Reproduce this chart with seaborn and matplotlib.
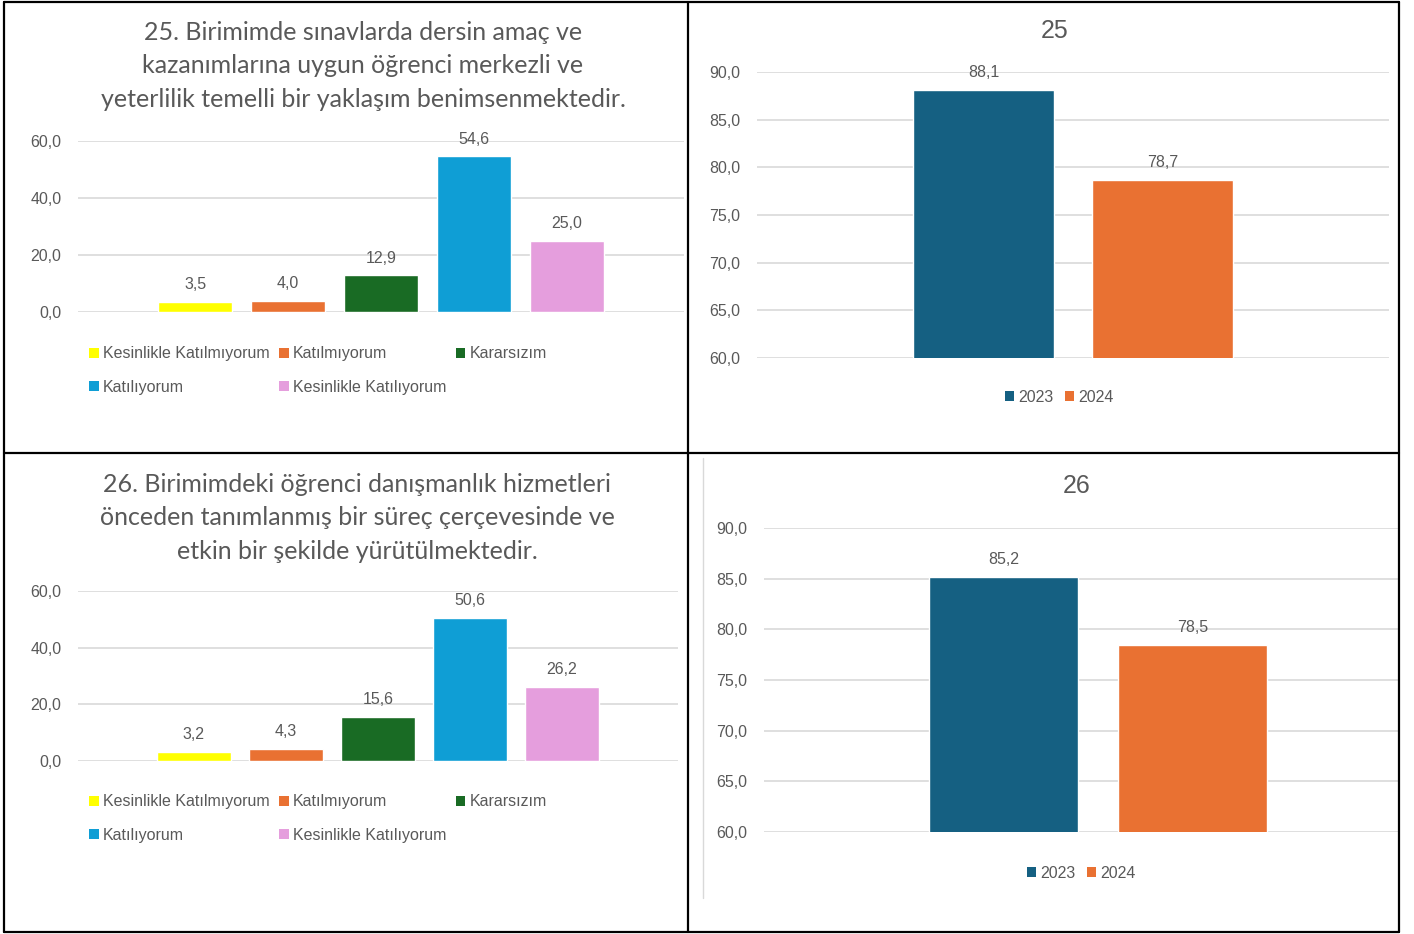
import matplotlib
matplotlib.use("Agg")
import matplotlib.pyplot as plt
from matplotlib.lines import Line2D
from matplotlib.patches import Patch
from matplotlib.ticker import FuncFormatter, MultipleLocator
import seaborn as sns
import pandas as pd

# --
# Data

cats = ["Kesinlikle Katılmıyorum", "Katılmıyorum", "Kararsızım",
        "Katılıyorum", "Kesinlikle Katılıyorum"]
cat_colors = ["#FFFF00", "#E97132", "#196B24", "#0F9ED5", "#E59EDD"]

q25_dist = [3.5, 4.0, 12.9, 54.6, 25.0]
q26_dist = [3.2, 4.3, 15.6, 50.6, 26.2]

years = ["2023", "2024"]
year_colors = ["#156082", "#E97132"]
q25_years = [88.1, 78.7]
q26_years = [85.2, 78.5]

q25_title = ("25. Birimimde sınavlarda dersin amaç ve\n"
             "kazanımlarına uygun öğrenci merkezli ve\n"
             "yeterlilik temelli bir yaklaşım benimsenmektedir.")
q26_title = ("26. Birimimdeki öğrenci danışmanlık hizmetleri\n"
             "önceden tanımlanmış bir süreç çerçevesinde ve\n"
             "etkin bir şekilde yürütülmektedir.")

# --
# Setup

sns.set_style("white")
plt.rcParams["font.family"] = ["Liberation Sans", "DejaVu Sans"]
GREY = "#595959"
W, H = 1414, 934
fig = plt.figure(figsize=(W / 100, H / 100), dpi=100)


def px_axes(l, t, r, b):
    return fig.add_axes([l / W, 1 - b / H, (r - l) / W, (b - t) / H])


def comma(v, pos=None):
    return f"{v:.1f}".replace(".", ",")


def style_axes(ax, ylo, yhi, step):
    ax.set_ylim(ylo, yhi)
    ax.yaxis.set_major_locator(MultipleLocator(step))
    ax.yaxis.set_major_formatter(FuncFormatter(comma))
    ax.grid(axis="y", color="#D9D9D9", linewidth=1.2)
    ax.set_axisbelow(True)
    sns.despine(ax=ax, left=True, bottom=True)
    ax.set_xticks([])
    ax.set_xlabel("")
    ax.set_ylabel("")
    ax.tick_params(axis="y", length=0, pad=12, labelsize=11.5, labelcolor=GREY)
    for c in ax.containers:
        ax.bar_label(c, fmt=comma, padding=7, fontsize=11.5, color=GREY)


def dist_chart(l, t, r, b, vals):
    ax = px_axes(l, t, r, b)
    df = pd.DataFrame({"g": "", "cat": cats, "val": vals})
    sns.barplot(data=df, x="g", y="val", hue="cat", hue_order=cats,
                palette=cat_colors, saturation=1, width=0.767, gap=0.2,
                legend=False, ax=ax)
    style_axes(ax, 0, 60, 20)
    return ax


def year_chart(l, t, r, b, vals, width, xlim=None):
    ax = px_axes(l, t, r, b)
    df = pd.DataFrame({"g": "", "year": years, "val": vals})
    sns.barplot(data=df, x="g", y="val", hue="year", hue_order=years,
                palette=year_colors, saturation=1, width=width, gap=0.21,
                legend=False, ax=ax)
    style_axes(ax, 60, 90, 5)
    if xlim:
        ax.set_xlim(*xlim)
    return ax


def sq(c):
    return Patch(facecolor=c, edgecolor="none")


def dist_legend(y):
    order = [0, 3, 1, 4, 2]
    fig.legend([sq(cat_colors[i]) for i in order], [cats[i] for i in order],
               ncol=3, loc="upper left", bbox_to_anchor=(75 / W, 1 - y / H),
               frameon=False, fontsize=11.5, labelcolor=GREY,
               handlelength=0.6, handleheight=0.6, handletextpad=0.25,
               columnspacing=0.6, labelspacing=1.15)


def year_legend(x, y):
    fig.legend([sq(c) for c in year_colors], years, ncol=2, loc="center",
               bbox_to_anchor=(x / W, 1 - y / H), frameon=False, fontsize=11.5,
               labelcolor=GREY, handlelength=0.6, handleheight=0.6,
               handletextpad=0.25, columnspacing=0.7)


TITLE_FONT = ["Lato", "DejaVu Sans"]

# --
# Top row

dist_chart(78, 141, 684, 312, q25_dist)
fig.text(363 / W, 1 - 21 / H, q25_title, ha="center", va="top", fontsize=18,
         color=GREY, linespacing=1.55, family=TITLE_FONT)
dist_legend(332)

year_chart(757, 72, 1389, 358, q25_years, 0.566)
fig.text(1055 / W, 1 - 31 / H, "25", ha="center", va="center", fontsize=18,
         color=GREY)
year_legend(1059, 397)

# --
# Bottom row

dist_chart(78, 591, 678, 761, q26_dist)
fig.text(357 / W, 1 - 473 / H, q26_title, ha="center", va="top", fontsize=18,
         color=GREY, linespacing=1.55, family=TITLE_FONT)
dist_legend(780)

year_chart(764, 528, 1399, 832, q26_years, 0.595, xlim=(-0.526, 0.474))
fig.text(1077 / W, 1 - 486 / H, "26", ha="center", va="center", fontsize=18,
         color=GREY)
year_legend(1081, 873)

# --
# Panel frames

def fline(x0, y0, x1, y1, c="black", lw=1.6):
    fig.add_artist(Line2D([x0 / W, x1 / W], [1 - y0 / H, 1 - y1 / H],
                          color=c, linewidth=lw))

fline(4, 2, 1399, 2)
fline(4, 932, 1399, 932)
fline(4, 2, 4, 932)
fline(1399, 2, 1399, 932)
fline(688, 2, 688, 932)
fline(4, 453, 1399, 453)
fline(703, 458, 703, 898, c="#D9D9D9", lw=1)

fig.savefig("out.png", dpi=100, facecolor="white")
